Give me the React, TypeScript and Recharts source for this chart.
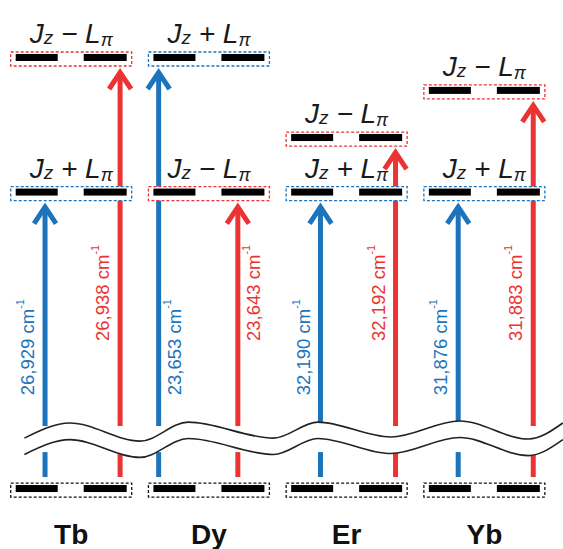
import React from 'react';
import { ComposedChart, XAxis, YAxis, Scatter, Line, Area, ReferenceLine } from 'recharts';

// ---- data ----
const elements = ['Tb', 'Dy', 'Er', 'Yb'];
// transition energies (cm-1) to the Jz + Lπ and Jz − Lπ states
const plusEnergy = [26929, 23653, 32190, 31876];
const minusEnergy = [26938, 23643, 32192, 31883];
// schematic heights of the excited levels on the broken energy axis (ground state = 0)
const plusLevel = [1, 1.454, 1, 1];
const minusLevel = [1.454, 1, 1.184, 1.343];
// where the energy axis is broken
const axisBreak = [0.128, 0.216];
// the hand-drawn wavy break marks (diagram units)
const breakX = [-0.34, -0.01, 0.5, 0.85, 1.47, 1.79, 2.32, 2.82, 3.32, 3.57];
const breakUpper = [0.175, 0.226, 0.165, 0.229, 0.175, 0.229, 0.179, 0.233, 0.172, 0.226];
const breakLower = [0.12, 0.17, 0.11, 0.174, 0.12, 0.174, 0.123, 0.177, 0.116, 0.17];
// where the energy labels sit along the arrows
const plusLabelLevel = 0.482;
const minusLabelLevel = 0.665;

// ---- style ----
const BLUE = '#1c74bc';
const RED = '#ec3333';
const FONT = 'Liberation Sans, Arial, Helvetica, sans-serif';
const W = 563;
const H = 549;
const BOX_W = 121;
const BOX_H = 14;
const INNER = 0.19;
const OUTER = 0.365;

const boxData: any[] = [];
const arrowData: any[] = [];
const labelData: any[] = [];
elements.forEach((el, i) => {
  boxData.push({ x: i, y: 0, kind: 'ground' });
  boxData.push({ x: i, y: plusLevel[i], kind: 'plus' });
  boxData.push({ x: i, y: minusLevel[i], kind: 'minus' });
  const plusHigh = plusLevel[i] > minusLevel[i];
  const bx = i - (plusHigh ? OUTER : INNER);
  const rx = i + (minusLevel[i] > 1.1 ? 0.355 : 0.21);
  arrowData.push({ x: bx, level: plusLevel[i], color: BLUE });
  arrowData.push({ x: rx, level: minusLevel[i], color: RED });
  const side = plusHigh ? 0.11 : -0.13;
  labelData.push({ x: bx + side, y: plusLabelLevel, energy: plusEnergy[i], color: BLUE });
  labelData.push({ x: rx + side, y: minusLabelLevel, energy: minusEnergy[i], color: RED });
});

const bandData = breakX.map((x, k) => ({ x, band: [breakLower[k], breakUpper[k]] }));
const upperData = breakX.map((x, k) => ({ x, y: breakUpper[k] }));
const lowerData = breakX.map((x, k) => ({ x, y: breakLower[k] }));

const fmt = (n: number) => n.toLocaleString('en-US');

const BoxShape = (p: any) => {
  const { cx, cy, payload } = p;
  if (cx == null || cy == null) return <g />;
  const kind = payload.kind;
  const stroke = kind === 'ground' ? '#111' : kind === 'plus' ? BLUE : RED;
  const left = cx - BOX_W / 2;
  const top = cy - BOX_H / 2;
  return (
    <g>
      <rect x={left} y={top} width={BOX_W} height={BOX_H} fill="#fff" stroke={stroke} strokeWidth={1.3} strokeDasharray="3 2" />
      <rect x={left + 5} y={top + 2} width={42} height={7} fill="#000" />
      <rect x={left + BOX_W - 48} y={top + 2} width={43} height={7} fill="#000" />
      {kind !== 'ground' && (
        <text x={cx} y={top - 9} textAnchor="middle" fontFamily={FONT} fontStyle="italic" fontSize={28} fill="#1a1a1a">
          <tspan>J</tspan>
          <tspan fontSize={19} dy={1}>z</tspan>
          <tspan dy={-1}>{kind === 'plus' ? ' + ' : ' \u2212 '}L</tspan>
          <tspan fontSize={18} dy={3}>π</tspan>
        </text>
      )}
    </g>
  );
};

const LabelShape = (p: any) => {
  const { cx, cy, payload } = p;
  if (cx == null || cy == null) return <g />;
  return (
    <text
      x={cx}
      y={cy}
      transform={`rotate(-90, ${cx}, ${cy})`}
      textAnchor="middle"
      dominantBaseline="central"
      fontFamily={FONT}
      fontSize={18.5}
      fill={payload.color}
    >
      <tspan>{fmt(payload.energy)} cm</tspan>
      <tspan fontSize={11} dy={-7}>-1</tspan>
    </text>
  );
};

const lowerShaft = (color: string) => (p: any) => {
  const yb = Math.max(p.y1, p.y2);
  const yt = Math.min(p.y1, p.y2);
  return <line x1={p.x1} x2={p.x1} y1={yb - 13} y2={yt} stroke={color} strokeWidth={5} />;
};

const upperArrow = (color: string) => (p: any) => {
  const x = p.x1;
  const yb = Math.max(p.y1, p.y2);
  const tip = Math.min(p.y1, p.y2) + BOX_H / 2 + 1;
  const v = tip + 5.5;
  return (
    <g>
      <line x1={x} x2={x} y1={yb} y2={v} stroke={color} strokeWidth={5} />
      <polyline
        points={`${x - 11},${tip + 22} ${x},${v} ${x + 11},${tip + 22}`}
        fill="none"
        stroke={color}
        strokeWidth={5}
        strokeLinejoin="miter"
      />
    </g>
  );
};

const ElementTick = (p: any) => {
  const { x, y, payload } = p;
  return (
    <text x={x} y={y + 35} textAnchor="middle" fontFamily={FONT} fontWeight="bold" fontSize={28} fill="#111">
      {elements[payload.value]}
    </text>
  );
};

export default function App() {
  return (
    <div style={{ position: 'absolute', left: 0, top: 0, width: W, height: H, background: '#fff' }}>
      <ComposedChart width={W} height={H} margin={{ top: 0, right: 0, bottom: 0, left: 0 }}>
        <XAxis
          type="number"
          dataKey="x"
          domain={[-0.517, 3.571]}
          allowDataOverflow
          ticks={[0, 1, 2, 3]}
          interval={0}
          axisLine={false}
          tickLine={false}
          tickSize={0}
          tickMargin={0}
          height={40}
          tick={ElementTick}
        />
        <YAxis type="number" dataKey="y" domain={[-0.064, 1.653]} allowDataOverflow hide />
        {arrowData.map((a, k) => (
          <ReferenceLine
            key={`lo${k}`}
            segment={[{ x: a.x, y: 0 }, { x: a.x, y: axisBreak[0] }]}
            shape={lowerShaft(a.color)}
            ifOverflow="visible"
            zIndex={100}
          />
        ))}
        {arrowData.map((a, k) => (
          <ReferenceLine
            key={`up${k}`}
            segment={[{ x: a.x, y: axisBreak[1] }, { x: a.x, y: a.level }]}
            shape={upperArrow(a.color)}
            ifOverflow="visible"
            zIndex={100}
          />
        ))}
        <Area
          data={bandData}
          dataKey="band"
          type="monotone"
          fill="#fff"
          fillOpacity={1}
          stroke="none"
          isAnimationActive={false}
          activeDot={false}
          zIndex={200}
        />
        <Line data={upperData} dataKey="y" type="monotone" stroke="#222" strokeWidth={1.6} dot={false} activeDot={false} isAnimationActive={false} zIndex={300} />
        <Line data={lowerData} dataKey="y" type="monotone" stroke="#222" strokeWidth={1.6} dot={false} activeDot={false} isAnimationActive={false} zIndex={300} />
        <Scatter data={boxData} shape={BoxShape} isAnimationActive={false} zIndex={400} />
        <Scatter data={labelData} shape={LabelShape} isAnimationActive={false} zIndex={500} />
      </ComposedChart>
    </div>
  );
}
